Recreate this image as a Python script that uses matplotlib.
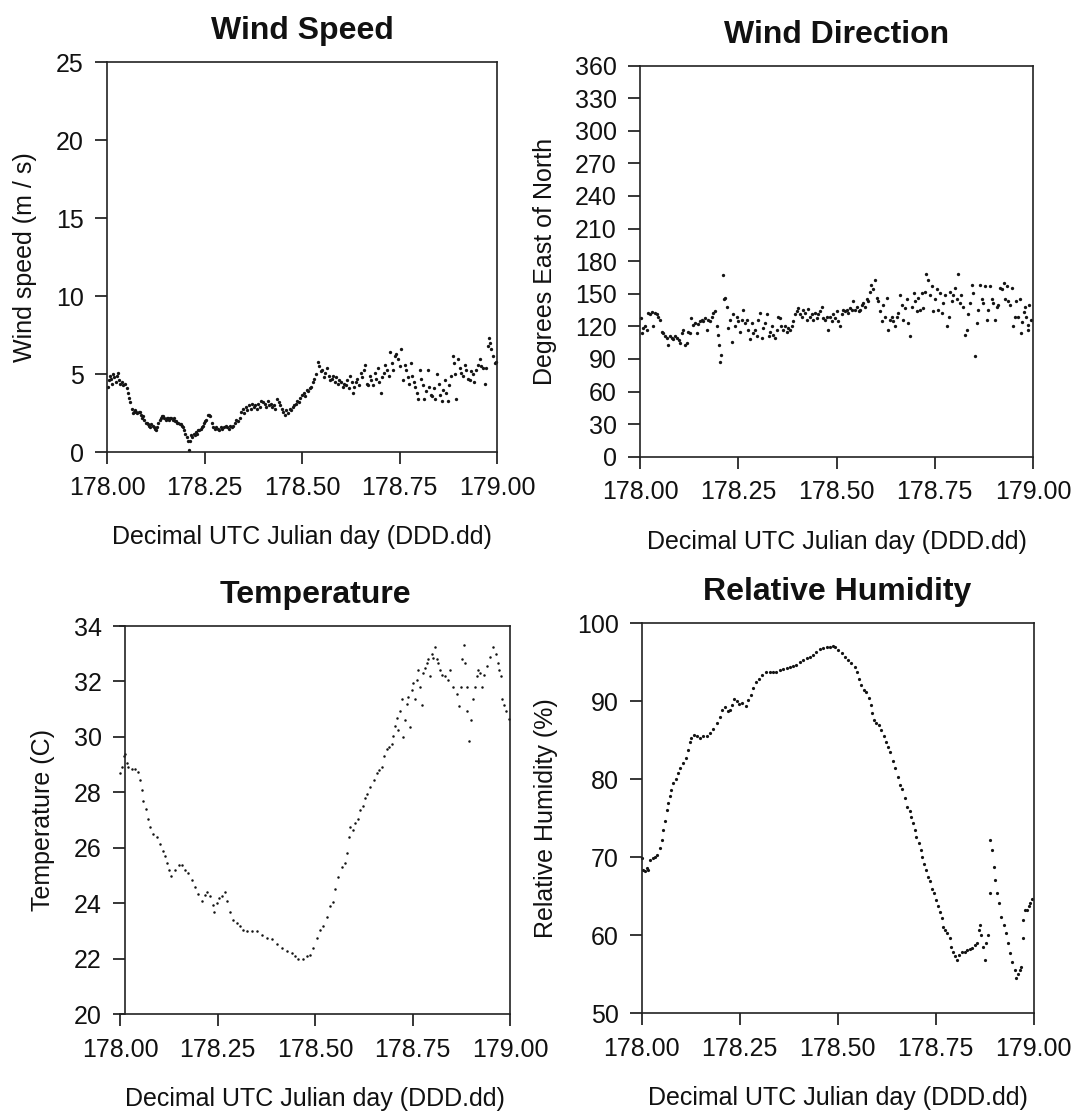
import matplotlib
matplotlib.use("Agg")
import matplotlib.pyplot as plt
import numpy as np

plt.rcParams['font.family'] = ['Liberation Sans', 'DejaVu Sans']

# ---------------- data ----------------
DAY0 = 178.0
x_ticks = [178.00, 178.25, 178.50, 178.75, 179.00]
x_ticklabels = ['178.00', '178.25', '178.50', '178.75', '179.00']
x_label = 'Decimal UTC Julian day (DDD.dd)'

titles = ['Wind Speed', 'Wind Direction', 'Temperature', 'Relative Humidity']
y_labels = ['Wind speed (m / s)', 'Degrees East of North', 'Temperature (C)', 'Relative Humidity (%)']
y_ticks_ws = [0, 5, 10, 15, 20, 25]
y_ticks_wd = [0, 30, 60, 90, 120, 150, 180, 210, 240, 270, 300, 330, 360]
y_ticks_t = [20, 22, 24, 26, 28, 30, 32, 34]
y_ticks_rh = [50, 60, 70, 80, 90, 100]

# (fraction of day after DAY0, value)
wind_speed = [
(0.002,4.2),(0.004,4.6),(0.007,4.9),(0.010,4.7),(0.013,4.4),(0.016,5.0),(0.019,4.8),(0.022,4.5),(0.025,4.9),(0.028,5.1),
(0.031,4.6),(0.034,4.4),(0.038,4.5),(0.042,4.3),(0.046,4.4),(0.050,4.1),(0.054,3.8),(0.057,3.5),(0.060,3.2),
(0.063,2.8),(0.066,2.5),(0.069,2.6),(0.072,2.7),(0.075,2.6),(0.078,2.5),(0.081,2.6),(0.084,2.6),(0.087,2.4),(0.090,2.2),
(0.093,2.3),(0.096,2.1),(0.099,1.9),(0.102,1.9),(0.105,1.8),(0.108,1.7),(0.111,1.6),(0.114,1.8),(0.117,1.7),(0.120,1.6),
(0.123,1.5),(0.126,1.45),(0.129,1.6),(0.132,1.9),(0.135,2.1),(0.138,2.2),(0.141,2.3),(0.144,2.3),(0.147,2.2),(0.150,2.1),
(0.153,2.2),(0.156,2.2),(0.159,2.1),(0.162,2.2),(0.165,2.2),(0.168,2.1),(0.171,2.2),(0.174,2.0),(0.177,2.0),(0.180,1.9),
(0.183,1.9),(0.186,1.8),(0.189,1.8),(0.192,1.7),(0.195,1.6),(0.198,1.4),(0.201,1.2),(0.204,1.0),(0.207,0.7),(0.210,0.15),
(0.213,0.7),(0.216,1.1),(0.219,1.0),(0.222,1.2),(0.225,1.1),(0.228,1.3),(0.231,1.2),(0.234,1.4),(0.237,1.4),(0.240,1.5),
(0.243,1.6),(0.246,1.7),(0.249,1.9),(0.252,2.0),(0.255,2.1),(0.258,2.4),(0.261,2.4),(0.264,2.3),(0.268,1.9),(0.272,1.6),
(0.276,1.5),(0.280,1.6),(0.284,1.5),(0.288,1.4),(0.292,1.6),(0.296,1.5),(0.300,1.6),(0.304,1.7),(0.308,1.6),(0.312,1.5),
(0.316,1.7),(0.320,1.6),(0.324,1.7),(0.328,1.9),(0.332,2.1),(0.336,2.0),(0.340,2.2),(0.344,2.6),(0.348,2.8),(0.352,2.5),
(0.356,2.9),(0.360,2.7),(0.364,3.0),(0.368,2.8),(0.372,3.1),(0.376,2.9),(0.380,3.0),(0.384,2.8),(0.388,3.1),(0.392,2.9),
(0.396,3.3),(0.400,3.2),(0.404,3.1),(0.408,2.9),(0.412,3.3),(0.416,3.0),(0.420,3.1),(0.424,2.9),(0.428,3.0),(0.432,2.8),
(0.436,3.4),(0.440,3.2),(0.444,3.0),(0.448,2.8),(0.452,2.6),(0.456,2.4),(0.460,2.7),(0.464,2.5),(0.468,2.8),(0.472,2.7),
(0.476,2.9),(0.480,3.0),(0.484,3.1),(0.488,3.3),(0.492,3.2),(0.496,3.5),(0.500,3.7),(0.504,3.8),(0.508,3.6),(0.512,4.0),
(0.516,3.9),(0.520,4.1),(0.524,4.2),(0.528,4.5),(0.532,4.7),(0.536,5.0),(0.540,5.8),(0.544,5.5),(0.548,5.2),(0.552,5.3),
(0.556,4.8),(0.560,5.1),(0.564,5.4),(0.568,4.9),(0.572,4.6),(0.576,4.7),(0.580,4.9),(0.584,4.5),(0.588,4.8),(0.592,4.4),
(0.596,4.6),(0.600,4.5),(0.604,4.2),(0.608,4.4),(0.612,4.3),(0.616,4.6),(0.620,4.1),(0.624,4.9),(0.628,4.5),(0.631,3.8),
(0.634,4.2),(0.638,4.5),(0.642,4.7),(0.646,4.3),(0.650,5.1),(0.654,4.8),(0.658,5.3),(0.662,5.6),(0.666,4.4),(0.670,4.3),
(0.674,4.9),(0.678,4.6),(0.682,4.3),(0.686,5.1),(0.690,4.7),(0.694,5.4),(0.698,4.5),(0.702,3.8),(0.706,4.8),(0.710,5.1),
(0.714,5.6),(0.718,5.3),(0.722,4.9),(0.726,6.4),(0.730,5.7),(0.734,5.3),(0.738,6.2),(0.742,6.3),(0.746,6.0),(0.750,5.5),
(0.755,6.6),(0.759,4.6),(0.763,5.6),(0.767,5.3),(0.771,4.8),(0.775,4.4),(0.779,5.7),(0.783,4.9),(0.787,4.5),(0.791,4.2),
(0.795,3.8),(0.798,3.4),(0.802,5.3),(0.806,4.7),(0.810,4.3),(0.814,3.4),(0.818,3.9),(0.822,5.3),(0.826,4.2),(0.830,3.7),
(0.834,3.6),(0.838,4.1),(0.842,3.4),(0.846,5.0),(0.850,4.4),(0.854,3.7),(0.858,3.3),(0.862,4.0),(0.866,4.6),(0.870,3.8),
(0.874,3.3),(0.878,4.3),(0.882,4.9),(0.886,6.2),(0.889,5.7),(0.892,5.0),(0.896,3.4),(0.900,6.0),(0.904,5.4),(0.908,5.1),
(0.913,4.9),(0.917,5.6),(0.921,5.3),(0.925,4.7),(0.930,4.6),(0.934,5.2),(0.938,5.0),(0.942,4.5),(0.947,5.3),(0.951,5.6),
(0.956,6.0),(0.960,5.5),(0.964,5.4),(0.968,4.4),(0.973,5.4),(0.977,6.8),(0.979,7.3),(0.982,7.0),(0.985,6.6),(0.990,6.2),
(0.994,5.7),(0.998,5.8)]

wind_direction = [
(0.002,128),(0.004,114),(0.008,118),(0.013,120),(0.017,117),(0.021,132),(0.025,131),(0.030,133),(0.034,120),(0.038,132),
(0.042,131),(0.047,129),(0.051,126),(0.055,115),(0.059,114),(0.064,111),(0.068,109),(0.072,103),(0.076,111),(0.081,109),
(0.085,108),(0.089,111),(0.093,109),(0.098,107),(0.102,105),(0.106,114),(0.110,117),(0.115,103),(0.119,105),(0.123,115),
(0.127,114),(0.131,128),(0.136,121),(0.140,123),(0.144,114),(0.148,122),(0.153,125),(0.157,126),(0.161,125),(0.165,128),
(0.170,117),(0.174,126),(0.178,125),(0.182,129),(0.187,132),(0.191,134),(0.195,120),(0.199,112),(0.202,103),(0.204,87),
(0.206,94),(0.210,167),(0.214,145),(0.216,146),(0.221,138),(0.225,118),(0.229,126),(0.233,106),(0.237,131),(0.242,120),
(0.246,129),(0.250,125),(0.254,115),(0.259,126),(0.263,135),(0.267,123),(0.271,126),(0.276,117),(0.280,108),(0.284,123),
(0.288,114),(0.293,117),(0.297,111),(0.301,126),(0.305,132),(0.310,109),(0.314,118),(0.318,123),(0.322,131),(0.327,111),
(0.331,115),(0.335,120),(0.339,112),(0.344,109),(0.348,117),(0.352,129),(0.356,128),(0.360,120),(0.365,117),(0.369,120),
(0.373,115),(0.377,118),(0.382,117),(0.386,120),(0.390,125),(0.394,131),(0.399,134),(0.403,137),(0.407,131),(0.411,129),
(0.416,135),(0.420,132),(0.424,126),(0.428,136),(0.433,129),(0.437,131),(0.441,126),(0.445,132),(0.450,128),(0.454,131),
(0.458,134),(0.462,138),(0.466,128),(0.471,126),(0.475,129),(0.479,117),(0.483,129),(0.488,125),(0.492,131),(0.496,128),
(0.500,134),(0.505,125),(0.509,120),(0.513,131),(0.517,135),(0.522,134),(0.526,135),(0.530,132),(0.534,137),(0.539,135),
(0.543,143),(0.547,135),(0.551,138),(0.556,134),(0.560,135),(0.564,140),(0.568,141),(0.573,138),(0.577,145),(0.581,143),
(0.585,152),(0.589,158),(0.594,154),(0.598,163),(0.602,146),(0.606,143),(0.611,134),(0.615,125),(0.619,140),(0.623,129),
(0.628,146),(0.632,117),(0.636,126),(0.640,129),(0.645,125),(0.649,120),(0.653,129),(0.657,132),(0.662,149),(0.666,140),
(0.670,126),(0.674,137),(0.679,145),(0.683,123),(0.687,111),(0.691,138),(0.696,151),(0.700,143),(0.704,134),(0.708,146),
(0.712,135),(0.717,151),(0.721,137),(0.725,152),(0.729,168),(0.734,163),(0.738,149),(0.742,157),(0.746,134),(0.751,145),
(0.755,154),(0.759,135),(0.763,151),(0.768,132),(0.772,141),(0.776,149),(0.780,120),(0.785,129),(0.789,152),(0.793,143),
(0.797,149),(0.802,155),(0.806,145),(0.810,168),(0.814,141),(0.818,149),(0.823,138),(0.827,112),(0.831,117),(0.835,131),
(0.840,141),(0.844,158),(0.848,151),(0.852,93),(0.857,123),(0.861,135),(0.865,158),(0.869,145),(0.874,141),(0.878,157),
(0.882,126),(0.886,135),(0.891,157),(0.895,145),(0.899,141),(0.903,126),(0.908,138),(0.912,140),(0.916,155),(0.920,154),
(0.925,160),(0.929,145),(0.933,157),(0.937,143),(0.942,140),(0.946,155),(0.950,120),(0.954,129),(0.958,143),(0.963,129),
(0.967,145),(0.969,114),(0.972,124),(0.977,133),(0.980,138),(0.983,129),(0.987,121),(0.988,117),(0.990,140),(0.995,126)]

temperature = [
(0.000,28.7),(0.004,28.9),(0.009,29.3),(0.013,29.4),(0.017,29.05),(0.021,28.9),(0.030,28.85),(0.038,28.85),(0.047,28.75),
(0.051,28.45),(0.056,28.1),(0.060,27.7),(0.067,27.4),(0.073,27.05),(0.077,26.75),(0.085,26.5),(0.094,26.4),(0.103,26.15),
(0.111,25.9),(0.115,25.7),(0.120,25.45),(0.126,25.2),(0.132,25.0),(0.141,25.2),(0.150,25.4),(0.158,25.4),(0.167,25.2),
(0.175,25.1),(0.184,24.85),(0.192,24.6),(0.201,24.35),(0.209,24.1),(0.218,24.3),(0.224,24.4),(0.231,24.25),(0.238,23.95),
(0.242,23.7),(0.248,24.0),(0.255,24.2),(0.261,24.25),(0.269,24.4),(0.275,24.1),(0.282,23.7),(0.289,23.4),(0.299,23.3),
(0.308,23.2),(0.316,23.05),(0.325,23.0),(0.338,23.0),(0.350,23.0),(0.363,22.85),(0.376,22.75),(0.389,22.7),(0.402,22.55),
(0.415,22.4),(0.427,22.3),(0.440,22.2),(0.449,22.1),(0.457,22.0),(0.468,22.0),(0.479,22.1),(0.487,22.15),(0.496,22.4),
(0.504,22.75),(0.513,23.05),(0.521,23.2),(0.530,23.5),(0.538,23.9),(0.545,24.05),(0.551,24.5),(0.560,24.95),(0.568,25.3),
(0.577,25.45),(0.583,25.8),(0.588,26.4),(0.591,26.75),(0.597,26.65),(0.603,26.9),(0.609,27.05),(0.615,27.35),(0.622,27.5),
(0.628,27.8),(0.634,27.95),(0.641,28.2),(0.650,28.45),(0.658,28.7),(0.665,28.8),(0.671,28.9),(0.677,29.3),(0.684,29.55),
(0.691,29.65),(0.697,29.75),(0.701,30.05),(0.705,30.4),(0.709,30.7),(0.714,30.25),(0.718,30.95),(0.722,31.35),(0.726,30.0),
(0.731,30.6),(0.735,31.2),(0.739,31.45),(0.744,30.35),(0.748,31.7),(0.752,31.95),(0.756,31.35),(0.761,32.05),(0.765,32.4),
(0.769,31.8),(0.774,31.15),(0.778,32.3),(0.782,32.5),(0.786,32.65),(0.791,32.8),(0.795,32.2),(0.799,33.0),(0.803,32.85),
(0.808,33.25),(0.812,32.8),(0.816,32.65),(0.821,32.4),(0.825,32.25),(0.833,32.2),(0.842,32.05),(0.846,32.4),(0.855,31.8),
(0.863,31.55),(0.869,31.1),(0.874,31.8),(0.878,32.8),(0.882,33.3),(0.885,32.65),(0.889,31.8),(0.891,30.95),(0.895,29.85),
(0.899,30.6),(0.904,31.35),(0.910,31.8),(0.915,32.2),(0.919,32.4),(0.923,32.3),(0.927,31.8),(0.933,32.25),(0.940,32.55),
(0.949,32.9),(0.957,33.25),(0.964,33.0),(0.968,32.65),(0.973,32.4),(0.976,32.2),(0.979,31.35),(0.985,31.15),(0.991,30.95),
(0.998,30.65)]

relative_humidity = [
(0.000,69.9),(0.003,68.4),(0.008,68.2),(0.013,68.6),(0.017,68.4),(0.021,69.7),(0.028,69.9),(0.034,70.1),(0.040,70.3),
(0.047,71.2),(0.051,72.2),(0.055,73.5),(0.059,74.6),(0.064,76.1),(0.068,76.9),(0.072,77.8),(0.076,78.6),(0.081,79.5),
(0.088,80.1),(0.093,80.8),(0.099,81.4),(0.106,82.1),(0.113,82.7),(0.119,83.8),(0.123,84.8),(0.127,85.3),(0.134,85.7),
(0.140,85.6),(0.149,85.3),(0.157,85.5),(0.166,85.5),(0.174,85.9),(0.183,86.5),(0.191,87.2),(0.200,88.0),(0.206,88.9),
(0.212,89.3),(0.219,88.7),(0.225,88.9),(0.231,89.5),(0.236,90.3),(0.242,90.1),(0.249,89.7),(0.257,89.8),(0.266,89.4),
(0.272,90.2),(0.278,90.8),(0.285,91.7),(0.291,92.5),(0.300,92.9),(0.308,93.4),(0.317,93.8),(0.327,93.8),(0.336,93.7),
(0.344,93.8),(0.353,94.0),(0.361,94.1),(0.370,94.3),(0.378,94.4),(0.387,94.5),(0.395,94.7),(0.404,95.0),(0.412,95.3),
(0.421,95.5),(0.429,95.7),(0.438,95.9),(0.446,96.3),(0.455,96.7),(0.463,96.8),(0.472,96.9),(0.480,97.0),(0.487,97.1),
(0.493,96.9),(0.501,96.6),(0.510,96.2),(0.518,95.7),(0.527,95.3),(0.535,94.9),(0.544,94.4),(0.550,93.8),(0.555,92.9),
(0.561,92.1),(0.567,91.5),(0.573,91.2),(0.579,90.4),(0.584,89.5),(0.589,88.5),(0.593,87.6),(0.599,87.2),(0.606,87.0),
(0.612,86.3),(0.618,85.5),(0.623,84.8),(0.629,84.2),(0.635,83.5),(0.641,82.3),(0.647,81.4),(0.654,80.3),(0.660,79.3),
(0.665,78.8),(0.671,77.6),(0.677,76.5),(0.684,75.9),(0.688,75.2),(0.692,74.4),(0.697,73.5),(0.701,72.6),(0.707,71.8),
(0.712,70.9),(0.716,70.1),(0.720,69.2),(0.725,68.4),(0.731,67.5),(0.735,66.9),(0.741,66.0),(0.746,65.4),(0.752,64.5),
(0.756,63.7),(0.762,63.0),(0.767,62.2),(0.769,61.1),(0.775,60.7),(0.780,60.3),(0.786,59.6),(0.790,58.5),(0.794,57.9),
(0.800,57.3),(0.805,56.8),(0.811,57.5),(0.817,57.8),(0.824,57.9),(0.830,58.1),(0.837,58.3),(0.844,58.4),(0.850,58.8),
(0.856,59.0),(0.861,60.7),(0.864,61.3),(0.867,60.0),(0.871,58.5),(0.875,56.8),(0.879,59.0),(0.884,60.0),(0.888,65.4),
(0.890,72.2),(0.895,70.9),(0.898,68.8),(0.902,67.1),(0.907,65.4),(0.912,64.1),(0.918,62.4),(0.924,61.3),(0.929,60.3),
(0.935,59.0),(0.941,57.7),(0.946,56.6),(0.952,55.6),(0.956,54.5),(0.960,55.1),(0.965,55.6),(0.968,56.0),(0.972,59.6),
(0.973,62.0),(0.978,63.3),(0.983,63.3),(0.989,63.7),(0.992,64.2),(0.995,64.6)]

# ---------------- layout (pixel boxes of the reference) ----------------
W, H = 1075, 1115
fig = plt.figure(figsize=(W / 100, H / 100), dpi=100)
fig.patch.set_facecolor('white')


def rect(x0, y0, x1, y1):
    return [x0 / W, 1 - y1 / H, (x1 - x0) / W, (y1 - y0) / H]


panels = [
    dict(data=wind_speed, box=(107, 62, 497, 452.3), ylim=(0, 25), yt=y_ticks_ws,
         title=titles[0], ylabel=y_labels[0], ylab_x=25, ms=2.4, left_in=0),
    dict(data=wind_direction, box=(640, 65.5, 1033, 456.7), ylim=(0, 360), yt=y_ticks_wd,
         title=titles[1], ylabel=y_labels[1], ylab_x=545, ms=2.4, left_in=0),
    dict(data=temperature, box=(120, 626, 510, 1014.3), ylim=(20, 34), yt=y_ticks_t,
         title=titles[2], ylabel=y_labels[2], ylab_x=43, ms=1.8, left_in=5),
    dict(data=relative_humidity, box=(641.7, 623.3, 1033.5, 1013.3), ylim=(50, 100), yt=y_ticks_rh,
         title=titles[3], ylabel=y_labels[3], ylab_x=546, ms=2.3, left_in=0),
]

ink = '#141414'
for p in panels:
    x0, y0, x1, y1 = p['box']
    ax = fig.add_axes(rect(x0, y0, x1, y1))
    frac, vals = zip(*p['data'])
    days = DAY0 + np.array(frac)
    ax.plot(days, vals, linestyle='none', marker='o', ms=p['ms'],
            mfc=ink, mec='none', clip_on=False)
    ax.set_xlim(178.0, 179.0)
    ax.set_ylim(*p['ylim'])
    ax.set_xticks(x_ticks)
    ax.set_xticklabels(x_ticklabels)
    ax.set_yticks(p['yt'])
    ax.tick_params(axis='both', direction='out', length=8.6, width=1.2, color=ink,
                   labelsize=18, labelcolor='#111111')
    ax.tick_params(axis='x', pad=8.5)
    ax.tick_params(axis='y', pad=8)
    for s in ax.spines.values():
        s.set_linewidth(1.2)
        s.set_color('#222222')
    if p['left_in']:
        ax.spines['left'].set_position(('outward', -p['left_in'] * 0.72))
    ax.set_title(p['title'], fontsize=23, fontweight='bold', pad=16.5, color='#111111')
    cx = (x0 + x1) / 2
    fig.text(cx / W, 1 - (y1 + 92) / H, x_label, ha='center', va='baseline',
             fontsize=18, color='#111111')
    fig.text(p['ylab_x'] / W, 1 - ((y0 + y1) / 2) / H, p['ylabel'], rotation=90,
             ha='center', va='center', fontsize=18, color='#111111')

fig.savefig('out.png', dpi=100, facecolor='white')
